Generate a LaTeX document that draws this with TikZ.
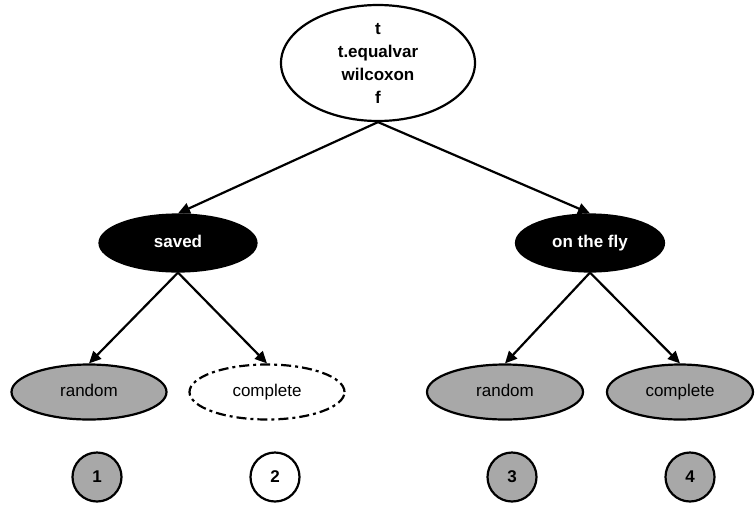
\documentclass[tikz,border=0pt]{standalone}
\usepackage{fontspec}
\setmainfont{Liberation Sans}
\usetikzlibrary{shapes.geometric,arrows.meta}
\definecolor{leafgray}{RGB}{168,168,168}
\begin{document}
\begin{tikzpicture}[x=1pt,y=-1pt,
  base/.style={ellipse,draw=black,line width=2.2pt,inner sep=0pt,
    font=\fontsize{17}{23}\selectfont},
  rootbox/.style={base,fill=white,minimum width=194pt,minimum height=116pt,
    font=\fontsize{17}{23}\selectfont\bfseries,align=center},
  onelabel/.style={text height=12.5pt,text depth=3.5pt},
  midbox/.style={base,onelabel,fill=black,text=white,minimum height=57pt,
    font=\fontsize{17}{23}\selectfont\bfseries},
  leafbox/.style={base,onelabel,fill=leafgray,minimum height=55pt},
  openbox/.style={base,onelabel,fill=white,minimum height=55pt,
    dash pattern=on 10pt off 4pt on 3pt off 4pt},
  numbox/.style={circle,draw=black,line width=2.2pt,minimum size=49pt,inner sep=0pt,
    font=\fontsize{17}{20}\selectfont\bfseries},
  edge/.style={line width=2.2pt,-{Triangle[length=12pt,width=11pt]}}
]
\useasboundingbox (0,0) rectangle (755,507);

\node[rootbox] (root) at (378,63) {t\\t.equalvar\\wilcoxon\\f};

\node[midbox,minimum width=157pt] (saved) at (178,243) {saved};
\node[midbox,minimum width=148pt] (fly) at (590,243) {on the fly};

\node[leafbox,minimum width=155pt] (r1) at (89,392) {random};
\node[openbox,minimum width=155pt] (c1) at (267,392) {complete};
\node[leafbox,minimum width=156pt] (r2) at (505,392) {random};
\node[leafbox,minimum width=146pt] (c2) at (680,392) {complete};

\node[numbox,fill=leafgray] (n1) at (97,477) {1};
\node[numbox,fill=white] (n2) at (275,477) {2};
\node[numbox,fill=leafgray] (n3) at (512,477) {3};
\node[numbox,fill=leafgray] (n4) at (690,477) {4};

\draw[edge] (root.south) -- (saved.north);
\draw[edge] (root.south) -- (fly.north);
\draw[edge] (saved.south) -- (r1.north);
\draw[edge] (saved.south) -- (c1.north);
\draw[edge] (fly.south) -- (r2.north);
\draw[edge] (fly.south) -- (c2.north);
\end{tikzpicture}
\end{document}
